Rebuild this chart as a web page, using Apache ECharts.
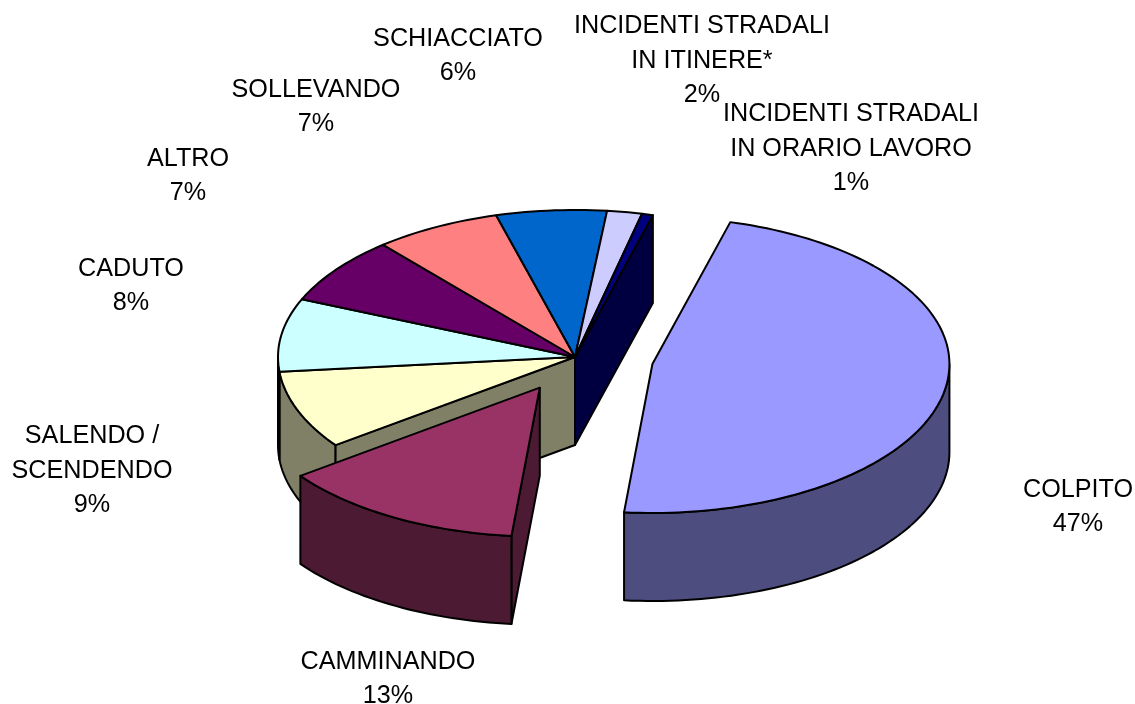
<!DOCTYPE html>
<html>
<head>
<meta charset="utf-8">
<style>html,body{margin:0;padding:0;background:#fff}#c{width:1135px;height:704px}</style>
<script src="https://cdn.jsdelivr.net/npm/echarts@6/dist/echarts.min.js"></script>
</head>
<body>
<div id="c"></div>
<script>
// Data, clockwise from the start of COLPITO
const categories = ['COLPITO','CAMMINANDO','SALENDO /\nSCENDENDO','CADUTO','ALTRO','SOLLEVANDO','SCHIACCIATO','INCIDENTI STRADALI\nIN ITINERE*','INCIDENTI STRADALI\nIN ORARIO LAVORO'];
const values = [47.3,13.4,8.5,8.0,7.4,6.9,6.0,1.9,0.6];
const percentLabels = ['47%','13%','9%','8%','7%','7%','6%','2%','1%'];
const topColors = ['#9999FF','#993366','#FFFFCC','#CCFFFF','#660066','#FF8080','#0066CC','#CCCCFF','#000080'];
const sideColors = ['#4D4D80','#4D1A33','#808066','#668080','#330033','#804040','#003366','#666680','#000040'];
const explode = [0.265,0.24,0,0,0,0,0,0,0];
// Layout
const CX=575, CY=357, RX=297, RY_BACK=147, RY_FRONT=149, DEPTH=88, START_DEG=15.2;
const labelCenters = [[1078,507],[388,679],[92,471],[131,286],[188,176],[316,107],[458,56],[702,61],[851,149]];

const total = values.reduce((a,b)=>a+b,0);
const rad = d => d*Math.PI/180;
const angles = []; let acc = START_DEG;
values.forEach(v=>{ const s=v/total*360; angles.push([acc,acc+s]); acc+=s; });

function slicePts(i){
  const [a0,a1]=angles[i], mid=(a0+a1)/2;
  const ox=CX+RX*explode[i]*Math.sin(rad(mid)), oy=CY-RY_BACK*explode[i]*Math.cos(rad(mid));
  const at=(d,dz=0)=>{const c=Math.cos(rad(d));return [ox+RX*Math.sin(rad(d)), oy-(c>0?RY_BACK:RY_FRONT)*c+dz];};
  const arc=(from,to,dz)=>{const n=Math.max(2,Math.ceil(Math.abs(to-from)/1.5)),p=[];for(let k=0;k<=n;k++)p.push(at(from+(to-from)*k/n,dz));return p;};
  return {a0,a1,ox,oy,at,arc};
}
const poly=(points,fill,z2)=>({type:'polygon',z2,shape:{points},style:{fill,stroke:'#000',lineWidth:2,lineJoin:'round'}});

function renderItem(params,api){
  const i=params.dataIndex, s=slicePts(i), kids=[];
  const isEx=j=>explode[(j+values.length)%values.length]>0;
  const base = i===1?3:(i===0?5:1);
  const side=sideColors[i];
  const O=[s.ox,s.oy], Ob=[s.ox,s.oy+DEPTH];
  // radial cut faces: only those bordering a gap, and only when they face the viewer
  const faceVisible=d=>-Math.cos(rad(d))>0;
  if((explode[i]>0||isEx(i-1)) && faceVisible(s.a0-90)){
    kids.push(poly([O,s.at(s.a0),s.at(s.a0,DEPTH),Ob],side,base+(i===2?0.5:0)));
  }
  if((explode[i]>0||isEx(i+1)) && faceVisible(s.a1+90)){
    kids.push(poly([O,s.at(s.a1),s.at(s.a1,DEPTH),Ob],side,base));
  }
  // outer wall: the front half of the ellipse only
  for(const [lo,hi] of [[90,270],[450,630]]){
    const f=Math.max(s.a0,lo), t=Math.min(s.a1,hi);
    if(f<t) kids.push(poly(s.arc(f,t,0).concat(s.arc(t,f,DEPTH)),side,base));
  }
  // top face
  kids.push(poly([O].concat(s.arc(s.a0,s.a1,0)),topColors[i],base+1));
  // label
  kids.push({type:'text',z2:10,style:{
    x:labelCenters[i][0],y:labelCenters[i][1],
    text:categories[i]+'\n'+percentLabels[i],
    font:'25.2px "Liberation Sans", Arial, sans-serif',
    lineHeight:34.5,fill:'#000',align:'center',verticalAlign:'middle'}});
  return {type:'group',children:kids};
}

const chart=echarts.init(document.getElementById('c'),null,{renderer:'canvas'});
chart.setOption({
  animation:false,
  backgroundColor:'#fff',
  series:[{
    type:'custom',
    coordinateSystem:'none',
    renderItem,
    data:categories.map((name,k)=>({name,value:values[k]}))
  }]
});
</script>
</body>
</html>
